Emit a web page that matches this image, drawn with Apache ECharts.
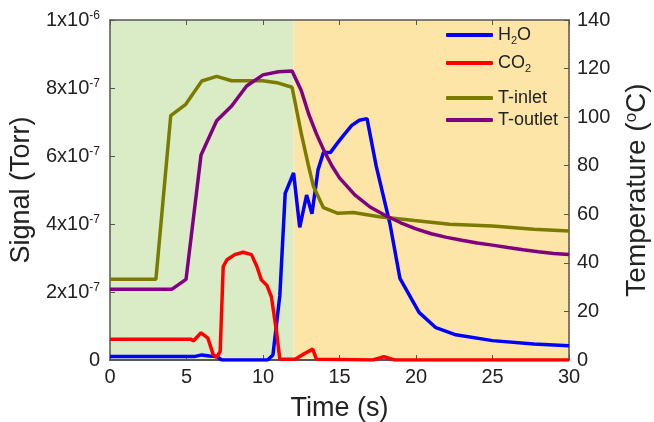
<!DOCTYPE html>
<html>
<head>
<meta charset="utf-8">
<script src="https://cdn.jsdelivr.net/npm/echarts@6/dist/echarts.min.js"></script>
<style>
  html, body { margin: 0; padding: 0; background: #fff; }
  #chart { width: 654px; height: 422px; }
</style>
</head>
<body>
<div id="chart"></div>
<script>
// signal values in units of 1e-7 Torr, temperatures in degC
const h2oTime = [0, 5.5, 6.0, 6.5, 7.0, 7.3, 10.3, 10.65, 11.1, 11.45, 12.0, 12.4, 12.85, 13.2, 13.6, 13.95, 14.4, 14.9, 15.25, 15.8, 16.3, 16.8, 17.4, 18.3, 18.95, 20.2, 21.3, 22.6, 25, 27.7, 30]
const h2oSignal = [0.1, 0.1, 0.15, 0.12, 0.1, 0, 0, 0.15, 1.9, 4.9, 5.5, 3.9, 4.85, 4.3, 5.6, 6.1, 6.1, 6.4, 6.6, 6.9, 7.05, 7.1, 5.7, 4.0, 2.4, 1.4, 0.95, 0.74, 0.57, 0.47, 0.42]

const co2Time = [0, 5.3, 5.45, 5.95, 6.4, 6.75, 6.97, 7.2, 7.4, 7.65, 8.15, 8.7, 9.25, 9.6, 9.9, 10.25, 10.55, 10.9, 11.1, 12.1, 12.75, 13.25, 13.5, 17.2, 17.9, 18.6, 30]
const co2Signal = [0.61, 0.61, 0.56, 0.8, 0.64, 0.15, 0.08, 0.25, 2.75, 2.95, 3.1, 3.17, 3.1, 2.75, 2.35, 2.2, 1.86, 0.78, 0.02, 0.02, 0.2, 0.32, 0.02, 0, 0.1, 0, 0]

const inletTime = [0, 3.0, 3.97, 4.95, 6.0, 6.97, 7.95, 10.0, 10.9, 11.9, 12.5, 12.96, 13.3, 13.95, 14.9, 15.9, 17.6, 19.9, 22.2, 25, 27.7, 30]
const inletTemp = [33.2, 33.2, 100.6, 105.3, 114.9, 116.8, 115, 115, 114.2, 112.3, 93.3, 80.3, 71.4, 62.7, 60.4, 60.7, 59, 57.4, 55.9, 55.2, 53.8, 53.1]

const outletTime = [0, 4.03, 4.97, 5.95, 6.97, 7.95, 8.93, 10.0, 11.0, 11.9, 12.5, 13.0, 13.5, 14, 14.5, 15, 16, 17, 18, 19, 20, 21, 22, 23, 24, 25, 26, 27, 28, 29, 30]
const outletTemp = [29.1, 29.1, 33.2, 84.4, 98.5, 104.6, 112.8, 117.4, 118.7, 119, 111, 101, 93, 86, 80, 75, 68, 63, 59.5, 56.5, 54, 52, 50.5, 49.3, 48.2, 47.3, 46.3, 45.4, 44.6, 43.9, 43.4]

const seriesNames = ['H2O', 'CO2', 'T-inlet', 'T-outlet']
const seriesColors = ['#0000ff', '#ff0000', '#7b7b00', '#800080']
const legendTops = [26, 54, 89, 111]

const stageBounds = [0, 12, 30]
const stageColors = ['#d9ecc6', '#fde5a8']

const zip = (xs, ys) => xs.map((x, i) => [x, ys[i]])

const font = 'Liberation Sans, Arial, sans-serif'
const textColor = '#222'
const axisColor = '#555'

const tickRich = {
  b: { fontSize: 20, fontFamily: font, color: textColor },
  sup: { fontSize: 12, fontFamily: font, color: textColor, verticalAlign: 'bottom', padding: [0, 0, 9, 0] }
}
const legendRich = {
  b: { fontSize: 18, fontFamily: font, color: textColor },
  sub: { fontSize: 11, fontFamily: font, color: textColor, verticalAlign: 'top', padding: [11, 0, 0, 0] }
}

function legendLabel(name) {
  if (name === 'H2O') return '{b|H}{sub|2}{b|O}'
  if (name === 'CO2') return '{b|CO}{sub|2}'
  return '{b|' + name + '}'
}

function signalLabel(v) {
  if (v === 0) return '{b|0}'
  if (v === 10) return '{b|1x10}{sup|-6}'
  return '{b|' + v + 'x10}{sup|-7}'
}

const chart = echarts.init(document.getElementById('chart'))

const data = [zip(h2oTime, h2oSignal), zip(co2Time, co2Signal), zip(inletTime, inletTemp), zip(outletTime, outletTemp)]

const axisLine = { show: true, onZero: false, lineStyle: { color: axisColor, width: 1.5 } }
const axisTick = { show: true, inside: true, length: 5, lineStyle: { color: axisColor, width: 1 } }

chart.setOption({
  animation: false,
  grid: { left: 110, right: 85, top: 20, bottom: 62, outerBoundsMode: 'none' },
  legend: seriesNames.map((n, i) => ({
    data: [{ name: n, icon: 'roundRect' }],
    left: 446,
    top: legendTops[i],
    itemWidth: 47,
    itemHeight: 4,
    padding: 0,
    formatter: legendLabel,
    textStyle: { rich: legendRich, fontSize: 18, fontFamily: font, color: textColor }
  })),
  xAxis: [{
    type: 'value',
    min: 0, max: 30, interval: 5,
    name: 'Time (s)',
    nameLocation: 'middle',
    nameGap: 35,
    nameTextStyle: { fontSize: 27, fontFamily: font, color: textColor },
    axisLine: { show: true, onZero: false, lineStyle: { color: axisColor, width: 2 } },
    axisTick: axisTick,
    axisLabel: { fontSize: 20, fontFamily: font, color: textColor, margin: 7 },
    splitLine: { show: true, lineStyle: { color: '#bbb', type: [1, 2], width: 1 } },
    minorTick: { show: false, splitNumber: 2 },
    minorSplitLine: { show: true, lineStyle: { color: '#bbb', type: [1, 2], width: 1 } }
  }, {
    type: 'value',
    position: 'top',
    min: 0, max: 30, interval: 5,
    axisLine: axisLine,
    axisTick: axisTick,
    axisLabel: { show: false },
    minorTick: { show: false },
    splitLine: { show: false }
  }],
  yAxis: [{
    type: 'value',
    min: 0, max: 10, interval: 2,
    name: 'Signal (Torr)',
    nameLocation: 'middle',
    nameRotate: 90,
    nameGap: 74,
    nameTextStyle: { fontSize: 27, fontFamily: font, color: textColor },
    axisLine: axisLine,
    axisTick: axisTick,
    minorTick: { show: false },
    axisLabel: { formatter: signalLabel, rich: tickRich, margin: 10 },
    splitLine: { show: false }
  }, {
    type: 'value',
    min: 0, max: 140, interval: 20,
    position: 'right',
    name: '{t|Temperature (}{s|o}{t|C)}',
    nameLocation: 'middle',
    nameRotate: 90,
    nameGap: 54,
    nameTextStyle: {
      fontSize: 28, fontFamily: font, color: textColor,
      rich: {
        t: { fontSize: 28, fontFamily: font, color: textColor },
        s: { fontSize: 17, fontFamily: font, color: textColor, verticalAlign: 'bottom', padding: [0, 0, 12, 0] }
      }
    },
    axisLine: axisLine,
    axisTick: axisTick,
    minorTick: { show: false },
    axisLabel: { fontSize: 20, fontFamily: font, color: textColor, margin: 8 },
    splitLine: { show: false }
  }],
  series: seriesNames.map((n, i) => {
    const s = {
      name: n,
      type: 'line',
      xAxisIndex: 0,
      yAxisIndex: i < 2 ? 0 : 1,
      data: data[i],
      showSymbol: false,
      symbol: 'none',
      color: seriesColors[i],
      lineStyle: { width: 3.5, color: seriesColors[i] },
      z: 3
    }
    if (i === 0) {
      s.markArea = {
        silent: true,
        z: 0,
        data: stageColors.map((c, k) => [
          { xAxis: stageBounds[k], itemStyle: { color: c } },
          { xAxis: stageBounds[k + 1] }
        ])
      }
    }
    return s
  })
})
</script>
</body>
</html>
